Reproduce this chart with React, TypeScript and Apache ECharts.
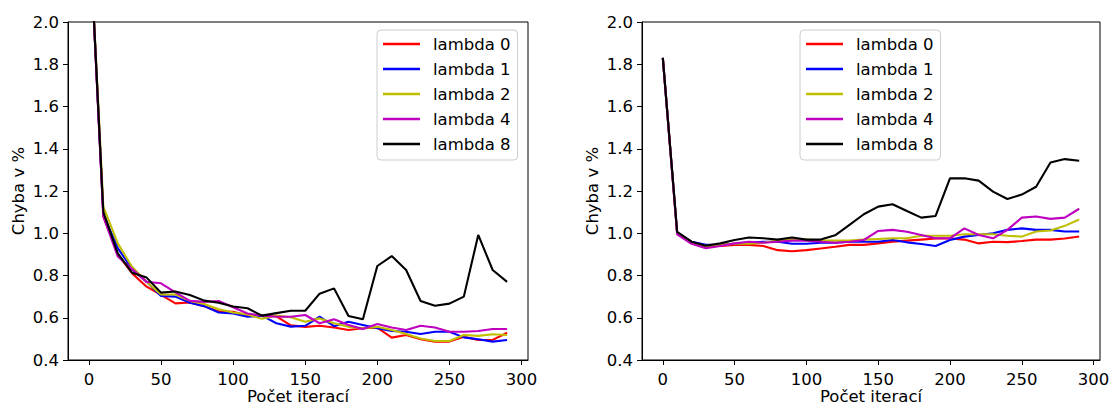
import React, { useEffect, useRef } from "react";
import * as echarts from "echarts";

const iterations = [0, 10, 20, 30, 40, 50, 60, 70, 80, 90, 100, 110, 120, 130, 140, 150, 160, 170, 180, 190, 200, 210, 220, 230, 240, 250, 260, 270, 280, 290];
const seriesNames = ["lambda 0", "lambda 1", "lambda 2", "lambda 4", "lambda 8"];
const seriesColors = ["#ff0000", "#0000ff", "#bfbf00", "#bf00bf", "#000000"];
const xTicks = [0, 50, 100, 150, 200, 250, 300];

// Left plot
const leftL0 = [2.5, 1.08, 0.90, 0.81, 0.747, 0.708, 0.668, 0.672, 0.655, 0.63, 0.628, 0.611, 0.611, 0.607, 0.564, 0.557, 0.562, 0.554, 0.542, 0.55, 0.553, 0.506, 0.518, 0.498, 0.487, 0.487, 0.51, 0.495, 0.495, 0.529];
const leftL1 = [2.5, 1.09, 0.93, 0.83, 0.77, 0.703, 0.70, 0.671, 0.655, 0.625, 0.62, 0.605, 0.61, 0.574, 0.558, 0.562, 0.605, 0.56, 0.581, 0.566, 0.55, 0.537, 0.534, 0.523, 0.534, 0.534, 0.507, 0.498, 0.487, 0.495];
const leftL2 = [2.5, 1.126, 0.952, 0.84, 0.77, 0.71, 0.71, 0.68, 0.665, 0.64, 0.625, 0.615, 0.595, 0.61, 0.602, 0.581, 0.597, 0.574, 0.557, 0.55, 0.557, 0.542, 0.523, 0.502, 0.49, 0.49, 0.518, 0.514, 0.522, 0.518];
const leftL4 = [2.5, 1.08, 0.89, 0.83, 0.77, 0.763, 0.72, 0.68, 0.675, 0.679, 0.65, 0.62, 0.61, 0.605, 0.605, 0.613, 0.574, 0.593, 0.566, 0.547, 0.57, 0.554, 0.542, 0.562, 0.554, 0.534, 0.534, 0.537, 0.547, 0.547];
const leftL8 = [2.5, 1.10, 0.905, 0.813, 0.79, 0.719, 0.724, 0.708, 0.681, 0.671, 0.653, 0.645, 0.61, 0.622, 0.633, 0.633, 0.714, 0.739, 0.608, 0.593, 0.845, 0.892, 0.826, 0.679, 0.657, 0.667, 0.70, 0.992, 0.826, 0.77];

// Right plot
const rightL0 = [1.83, 1.0, 0.955, 0.94, 0.94, 0.945, 0.945, 0.94, 0.92, 0.915, 0.92, 0.928, 0.936, 0.945, 0.945, 0.952, 0.96, 0.965, 0.97, 0.975, 0.975, 0.97, 0.952, 0.96, 0.958, 0.963, 0.97, 0.97, 0.975, 0.985];
const rightL1 = [1.83, 1.0, 0.96, 0.945, 0.945, 0.95, 0.955, 0.96, 0.96, 0.95, 0.95, 0.955, 0.955, 0.96, 0.96, 0.96, 0.968, 0.957, 0.949, 0.94, 0.968, 0.984, 0.992, 1.0, 1.016, 1.023, 1.016, 1.016, 1.008, 1.008];
const rightL2 = [1.83, 1.0, 0.955, 0.94, 0.945, 0.95, 0.95, 0.955, 0.965, 0.97, 0.97, 0.965, 0.965, 0.965, 0.97, 0.973, 0.976, 0.976, 0.988, 0.988, 0.988, 0.995, 0.995, 0.995, 0.988, 0.984, 1.008, 1.013, 1.035, 1.065];
const rightL4 = [1.83, 0.995, 0.95, 0.929, 0.94, 0.952, 0.96, 0.955, 0.96, 0.965, 0.965, 0.96, 0.955, 0.96, 0.968, 1.011, 1.016, 1.007, 0.992, 0.976, 0.976, 1.023, 0.992, 0.976, 1.016, 1.074, 1.079, 1.068, 1.074, 1.116];
const rightL8 = [1.83, 1.007, 0.96, 0.941, 0.952, 0.968, 0.98, 0.976, 0.97, 0.98, 0.97, 0.97, 0.99, 1.04, 1.09, 1.126, 1.137, 1.105, 1.074, 1.082, 1.26, 1.26, 1.249, 1.197, 1.162, 1.183, 1.22, 1.335, 1.351, 1.343];

const leftData = [leftL0, leftL1, leftL2, leftL4, leftL8];
const rightData = [rightL0, rightL1, rightL2, rightL4, rightL8];

const FONT = "DejaVu Sans";
const FS = 16.5;

function makeXAxis(gridIndex: number) {
  return {
    type: "value",
    gridIndex,
    min: -14.5,
    max: 304.5,
    name: "Počet iterací",
    nameLocation: "middle",
    nameGap: 28,
    nameMoveOverlap: false,
    nameTextStyle: { fontFamily: FONT, fontSize: FS, color: "#000" },
    axisLine: { show: true, onZero: false, lineStyle: { color: "#000", width: 1 } },
    axisTick: { show: true, inside: false, length: 5, lineStyle: { color: "#000", width: 1 }, customValues: xTicks },
    axisLabel: { fontFamily: FONT, fontSize: FS, color: "#000", margin: 11, customValues: xTicks },
    splitLine: { show: false },
  };
}

function makeYAxis(gridIndex: number) {
  return {
    type: "value",
    gridIndex,
    min: 0.4,
    max: 2.0,
    interval: 0.2,
    name: "Chyba v %",
    nameLocation: "middle",
    nameGap: 41,
    nameMoveOverlap: false,
    nameTextStyle: { fontFamily: FONT, fontSize: FS, color: "#000" },
    axisLine: { show: true, onZero: false, lineStyle: { color: "#000", width: 1 } },
    axisTick: { show: true, inside: false, length: 5, lineStyle: { color: "#000", width: 1 } },
    axisLabel: { fontFamily: FONT, fontSize: FS, color: "#000", margin: 9, formatter: (v: number) => v.toFixed(1) },
    splitLine: { show: false },
  };
}

function makeLegend(left: number) {
  return {
    orient: "vertical",
    left,
    top: 30,
    icon: "rect",
    itemWidth: 37,
    itemHeight: 2.5,
    itemGap: 5,
    padding: [4, 7, 6, 6],
    backgroundColor: "rgba(255,255,255,0.8)",
    borderColor: "#cccccc",
    borderWidth: 1,
    borderRadius: 4,
    selectedMode: false,
    data: seriesNames,
    textStyle: { fontFamily: FONT, fontSize: FS, color: "#000", lineHeight: 20, padding: [0, 0, 0, 8] },
  };
}

export default function App() {
  const ref = useRef<HTMLDivElement>(null);
  useEffect(() => {
    document.body.style.margin = "0";
    if (!ref.current) return;
    const chart = echarts.init(ref.current, null, { renderer: "svg" });
    const series: any[] = [];
    [leftData, rightData].forEach((group, gi) => {
      group.forEach((vals, si) => {
        series.push({
          type: "line",
          name: seriesNames[si],
          xAxisIndex: gi,
          yAxisIndex: gi,
          data: iterations.map((x, i) => [x, vals[i]]),
          showSymbol: false,
          symbol: "none",
          clip: true,
          lineStyle: { color: seriesColors[si], width: 2.1 },
          itemStyle: { color: seriesColors[si] },
          z: 2 + si,
        });
      });
    });
    chart.setOption({
      animation: false,
      backgroundColor: "#fff",
      grid: [
        { left: 68, top: 22, width: 460, height: 338, show: true, borderColor: "#000", borderWidth: 1, backgroundColor: "transparent", outerBoundsMode: "none", containLabel: false },
        { left: 642, top: 22, width: 458, height: 338, show: true, borderColor: "#000", borderWidth: 1, backgroundColor: "transparent", outerBoundsMode: "none", containLabel: false },
      ],
      xAxis: [makeXAxis(0), makeXAxis(1)],
      yAxis: [makeYAxis(0), makeYAxis(1)],
      legend: [makeLegend(377), makeLegend(800)],
      series,
    });
    return () => chart.dispose();
  }, []);
  return <div ref={ref} style={{ width: 1113, height: 406 }} />;
}
